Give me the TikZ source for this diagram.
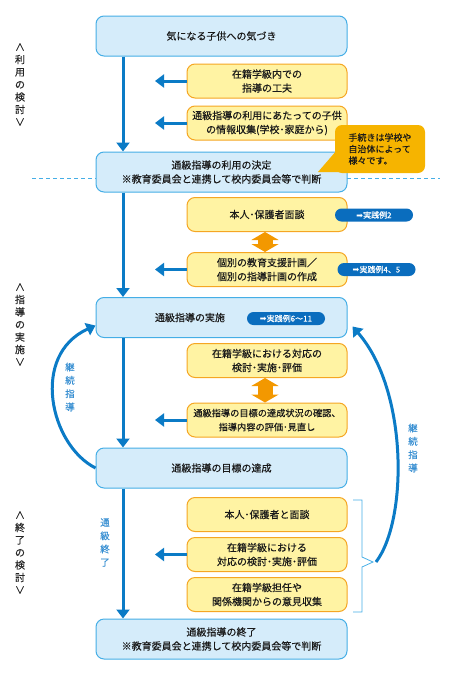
\documentclass[tikz,border=0pt]{standalone}
\usepackage{fontspec}
\setmainfont{Noto Sans CJK JP}[FakeBold=0.35]
\newfontfamily\arrowfont{DejaVu Sans}
\usetikzlibrary{arrows.meta}
\definecolor{boxblue}{HTML}{D5ECFA}
\definecolor{lineblue}{HTML}{45AEE6}
\definecolor{boxyellow}{HTML}{FFF3A3}
\definecolor{lineorange}{HTML}{F5A623}
\definecolor{flowblue}{HTML}{0B7BC6}
\definecolor{tagblue}{HTML}{0A6DBE}
\definecolor{noteorange}{HTML}{F6B400}
\definecolor{swaporange}{HTML}{F39800}
\definecolor{labelblue}{HTML}{3A90D2}

\begin{document}
\begin{tikzpicture}[x=1pt,y=-1pt,
  blue box/.style={draw=lineblue,fill=boxblue,line width=1pt,rounded corners=8pt,
    minimum width=251pt,minimum height=40pt,align=center,
    font=\fontsize{10}{14}\selectfont,text=black!90},
  yellow box/.style={draw=lineorange,fill=boxyellow,line width=1pt,rounded corners=8pt,
    minimum width=160pt,minimum height=34pt,align=center,inner sep=2pt,
    font=\fontsize{10}{14}\selectfont,text=black!90},
  tag node/.style={fill=tagblue,text=white,rounded corners=6.5pt,minimum width=78pt,
    minimum height=13pt,inner sep=0pt,font=\fontsize{8}{8}\selectfont},
  side label/.style={align=center,inner sep=0pt,font=\fontsize{10}{12.5}\selectfont,text=black!85},
  loop label/.style={align=center,inner sep=0pt,font=\fontsize{9.5}{13.3}\selectfont,text=labelblue},
  flow/.style={draw=flowblue,line width=3pt,-{Triangle[width=13pt,length=9pt]}},
  swap/.style={draw=swaporange,line width=15pt,
    {Triangle[width=27pt,length=8pt]}-{Triangle[width=27pt,length=8pt]}}]

  \useasboundingbox (0,0) rectangle (454,675);
  \draw[lineblue,line width=1pt,dash pattern=on 4pt off 3pt] (32,178) -- (440,178);

  % main steps
  \node[blue box] (notice) at (221.5,36) {気になる子供への気づき};
  \node[blue box] (decide) at (221.5,172) {通級指導の利用の決定\\※教育委員会と連携して校内委員会等で判断};
  \node[blue box] (practice) at (221.5,317.5) {};
  \node[font=\fontsize{10}{14}\selectfont,text=black!90] (practiceText) at (190,317.5) {通級指導の実施};
  \node[blue box] (achieve) at (221.5,468) {通級指導の目標の達成};
  \node[blue box] (finish) at (221.5,639) {通級指導の終了\\※教育委員会と連携して校内委員会等で判断};

  % side steps
  \node[yellow box] (classIdea) at (267,81) {在籍学級内での\\指導の工夫};
  \node[yellow box] (info) at (267,123) {通級指導の利用にあたっての子供\\の情報収集(学校･家庭から)};
  \node[yellow box] (talk) at (267,214.5) {本人･保護者面談};
  \node[yellow box] (plan) at (267,269.5) {個別の教育支援計画／\\個別の指導計画の作成};
  \node[yellow box] (classCheck) at (267,360.5) {在籍学級における対応の\\検討･実施･評価};
  \node[yellow box,font=\fontsize{9.2}{14}\selectfont] (review) at (267,420) {通級指導の目標の達成状況の確認、\\指導内容の評価･見直し};
  \node[yellow box] (talkEnd) at (267,514.5) {本人･保護者と面談};
  \node[yellow box] (classEnd) at (267,554.5) {在籍学級における\\対応の検討･実施･評価};
  \node[yellow box] (opinion) at (267,594.5) {在籍学級担任や\\関係機関からの意見収集};

  \node[tag node] (tag2) at (374,215) {{\arrowfont ➡}実践例2};
  \node[tag node] (tag45) at (376.5,269.5) {{\arrowfont ➡}実践例4、5};
  \node[tag node] (tag611) at (286,318.5) {{\arrowfont ➡}実践例6〜11};

  \fill[noteorange] (337,150) -- (318,172) -- (350,172) -- cycle;
  \node[fill=noteorange,rounded corners=7pt,minimum width=90pt,minimum height=48pt,
    align=left,font=\fontsize{9}{11.5}\selectfont,text=black!90] (note) at (380,149)
    {手続きは学校や\\自治体によって\\様々です。};

  \node[side label] (sideUse) at (20,84.5) {∧\\利\\用\\の\\検\\討\\∨};
  \node[side label] (sideGuide) at (20,324.5) {∧\\指\\導\\の\\実\\施\\∨};
  \node[side label] (sideEnd) at (20,552.5) {∧\\終\\了\\の\\検\\討\\∨};

  \node[loop label] (loopLeft) at (70,387) {継\\続\\指\\導};
  \node[loop label] (loopRight) at (413,448) {継\\続\\指\\導};
  \node[loop label] (endLabel) at (105,542.5) {通\\級\\終\\了};

  % trunk
  \coordinate (trunk) at (123,0);
  \draw[flow] (notice.south -| trunk) -- (decide.north -| trunk);
  \draw[flow] (decide.south -| trunk) -- (practice.north -| trunk);
  \draw[flow] (practice.south -| trunk) -- (achieve.north -| trunk);
  \draw[flow] (achieve.south -| trunk) -- (finish.north -| trunk);

  % side arrows
  \coordinate (leftEnd) at (155,0);
  \draw[flow] (classIdea.west) -- (classIdea.west -| leftEnd);
  \draw[flow] (info.west) -- (info.west -| leftEnd);
  \draw[flow] (plan.west) -- (plan.west -| leftEnd);
  \draw[flow] (review.west) -- (review.west -| leftEnd);
  \draw[flow] (classEnd.west) -- (classEnd.west -| leftEnd);

  \draw[swap] (talk.south -| 265,0) -- (plan.north -| 265,0);
  \draw[swap] (classCheck.south -| 265,0) -- (review.north -| 265,0);

  % loops
  \draw[flow] (achieve.west) .. controls (50,445) and (30,355) .. ([yshift=-8pt]practice.west);
  \draw[lineblue,line width=0.8pt] (353,500) -- (362,500) -- (362,557) -- (373,562)
    -- (362,567) -- (362,612) -- (353,612);
  \coordinate (bracketTip) at (376,562);
  \draw[flow] (bracketTip) .. controls (408,520) and (408,390) .. ([xshift=5pt,yshift=-9pt]practice.east);
\end{tikzpicture}
\end{document}
